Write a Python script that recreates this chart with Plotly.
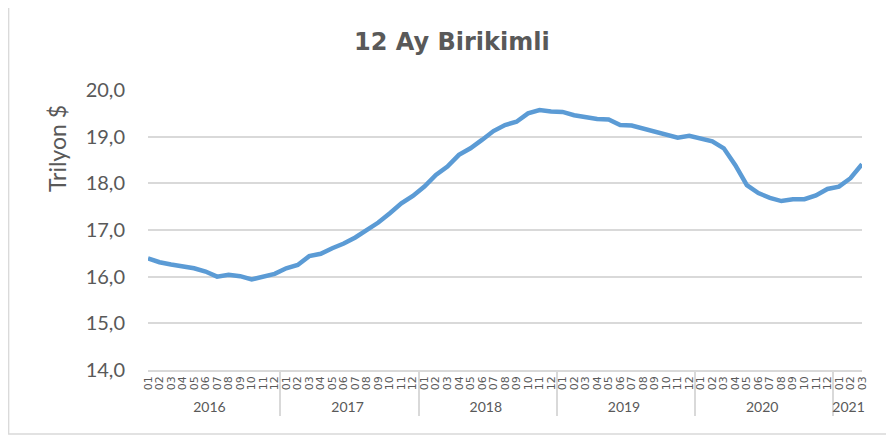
import plotly.graph_objects as go

years = ["2016"] * 12 + ["2017"] * 12 + ["2018"] * 12 + ["2019"] * 12 + ["2020"] * 12 + ["2021"] * 3
months = [f"{m:02d}" for m in range(1, 13)] * 5 + ["01", "02", "03"]

values = [
    16.39, 16.31, 16.26, 16.22, 16.18, 16.11, 16.00, 16.04, 16.01, 15.94, 16.01, 16.06,
    16.18, 16.25, 16.44, 16.49, 16.61, 16.71, 16.84, 17.00, 17.16, 17.36, 17.57, 17.73,
    17.93, 18.18, 18.36, 18.61, 18.75, 18.93, 19.12, 19.25, 19.32, 19.50, 19.57, 19.54,
    19.53, 19.46, 19.42, 19.38, 19.37, 19.25, 19.24, 19.18, 19.12, 19.06, 18.98, 19.02,
    18.96, 18.90, 18.75, 18.39, 17.96, 17.79, 17.69, 17.62, 17.66, 17.66, 17.74, 17.88,
    17.93, 18.11, 18.41,
]

y_ticks = [14, 15, 16, 17, 18, 19, 20]

title_text = "12 Ay Birikimli"
y_title = "Trilyon $"

FONT = "Lato"
GREY = "#595959"
GRID = "#d9d9d9"

# page body has an 8px margin; work in screen pixels and convert
OFF = 8
W, H = 894 - OFF, 436 - OFF
PL, PR, PT, PB = 148, 862, 90, 370  # plot area in screen pixels
L, R, T, B = PL - OFF, W - (PR - OFF), PT - OFF, H - (PB - OFF)
pw, ph = PR - PL, PB - PT

def px_x(px):
    return (px - PL) / pw

def px_y(py):
    return (PB - py) / ph

year_labels = [f'<span style="font-size:14px;font-family:Lato">{y}</span>' for y in years]

fig = go.Figure()
fig.add_trace(go.Scatter(
    x=[year_labels, months], y=values, mode="lines",
    line=dict(color="#5b9bd5", width=4.5),
    hoverinfo="skip",
))

fig.update_layout(
    width=W, height=H,
    margin=dict(l=L, r=R, t=T, b=B, pad=0),
    paper_bgcolor="white", plot_bgcolor="white",
    separators=",.",
    showlegend=False,
    font=dict(family=FONT, color=GREY),
    xaxis=dict(
        type="multicategory",
        automargin=False,
        showgrid=False,
        showline=True, linecolor=GRID, linewidth=1.5,
        ticks="",
        tickmode="linear", tick0=0, dtick=1,
        tickangle=-90,
        tickfont=dict(size=11, color=GREY, family="DejaVu Sans"),
        showdividers=True, dividercolor=GRID, dividerwidth=1.5,
        zeroline=False,
    ),
    yaxis=dict(
        range=[14, 20],
        automargin=False,
        tickvals=y_ticks,
        tickformat=".1f",
        showgrid=True, gridcolor=GRID, gridwidth=1.5,
        zeroline=False, showline=False,
        ticks="",
        ticklabelstandoff=22,
        tickfont=dict(size=20, color=GREY, family=FONT),
    ),
    annotations=[
        dict(text=f"<b>{title_text}</b>", xref="paper", yref="paper",
             x=px_x(452), y=px_y(42), xanchor="center", yanchor="middle",
             showarrow=False, font=dict(size=24, color=GREY, family="DejaVu Sans")),
        dict(text=y_title, xref="paper", yref="paper",
             x=px_x(57), y=px_y(149), xanchor="center", yanchor="middle",
             textangle=-90, showarrow=False,
             font=dict(size=23, color=GREY, family=FONT)),
    ],
    shapes=[
        dict(type="rect", xref="paper", yref="paper",
             x0=px_x(8.7), x1=px_x(887), y0=px_y(434), y1=px_y(0),
             line=dict(color=GRID, width=1.3), fillcolor="rgba(0,0,0,0)", layer="below"),
    ],
)

fig.write_html("out.html")
